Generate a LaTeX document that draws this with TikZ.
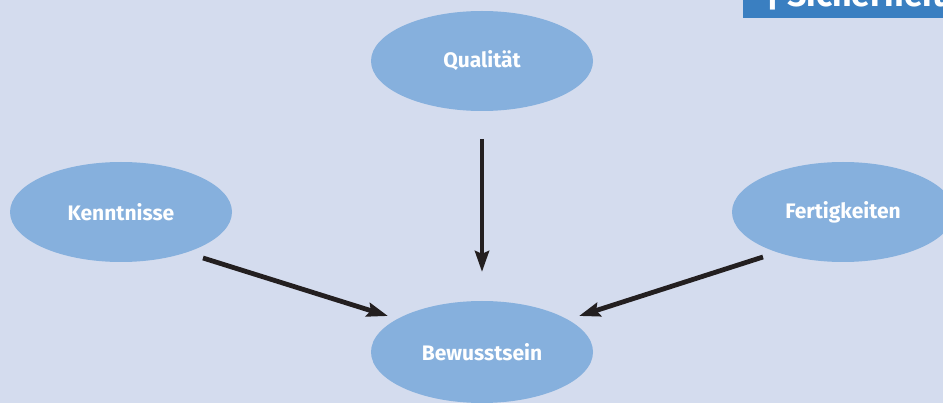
\documentclass[tikz,border=0pt]{standalone}
\usepackage{fontspec}
\setmainfont{Fira Sans}
\usepackage{tikz}
\usetikzlibrary{shapes.geometric}
\usetikzlibrary{arrows.meta}
\usetikzlibrary{calc}
\usepackage{xcolor}
\definecolor{hgblau}{HTML}{D4DCEE}
\definecolor{ovalblau}{HTML}{86B0DD}
\definecolor{kopfblau}{HTML}{3A7FC1}
\definecolor{pfeilschwarz}{HTML}{231F20}

\begin{document}
\begin{tikzpicture}[x=1pt,y=-1pt,
oval/.style={ellipse,fill=ovalblau,minimum width=222pt,minimum height=100pt,inner sep=0pt,
  text=white,font=\fontsize{21}{21}\selectfont\bfseries},
pfeil/.style={draw=pfeilschwarz,line width=4.8pt,-{Stealth[length=21pt,width=14pt,inset=3pt]}}]
\useasboundingbox (0,0) rectangle (943,403);
\clip (0,0) rectangle (943,403);
\fill[hgblau] (0,0) rectangle (943,403);
%\draw[red] (0,0) grid[step=50] (943,403);

% Kopfzeile oben rechts
\fill[kopfblau] (743,-20) rectangle (960,18);
\node (kopf) [anchor=base west,inner sep=0pt,text=white,font=\fontsize{34}{34}\selectfont\bfseries] at (766,7) {| Sicherheit};

\node (qual) [oval] at (482,61) {Qualität};
\node (kenn) [oval] at (121,212) {Kenntnisse};
\node (fert) [oval] at (843,212) {Fertigkeiten};
\node (bew) [oval,minimum height=102pt] at (482,352) {Bewusstsein};

\draw[pfeil] ($(qual)+(0,78)$) -- ($(bew)+(0,-80)$);
\draw[pfeil] ($(kenn)+(82,46)$) -- ($(bew)+(-94,-36)$);
\draw[pfeil] ($(fert)+(-80,45)$) -- ($(bew)+(97,-36)$);
\end{tikzpicture}
\end{document}
